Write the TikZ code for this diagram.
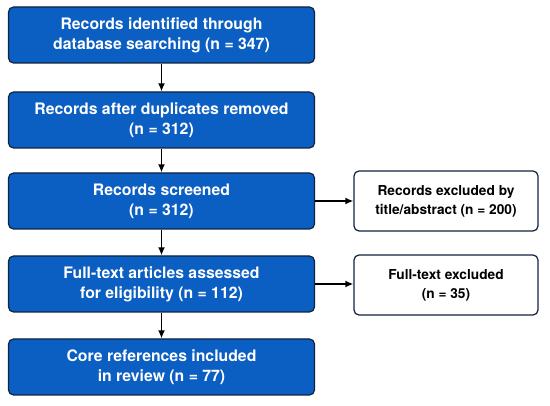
\documentclass[tikz,border=0pt]{standalone}
\usepackage{fontspec}
\setmainfont{TeX Gyre Heros}
\usepackage{xcolor}
\usetikzlibrary{arrows.meta,positioning}
\definecolor{flowblue}{HTML}{0B5EC2}
\definecolor{edgedark}{HTML}{10233F}

\begin{document}
\begin{tikzpicture}[
  x=1pt,y=-1pt,
  wire/.style={-{Latex[length=8pt,width=7pt]},line width=1.6pt},
  mainbox/.style={draw=edgedark,line width=1.2pt,rounded corners=5pt,
                  fill=flowblue,text=white,minimum width=306pt,
                  minimum height=56pt,align=center,
                  font=\fontsize{15.8}{20}\selectfont\bfseries},
  sidebox/.style={draw=edgedark,line width=1.2pt,rounded corners=5pt,
                  fill=white,text=black,minimum width=184pt,
                  minimum height=60pt,align=center,
                  font=\fontsize{13.7}{19}\selectfont\bfseries}
]
\useasboundingbox (0,0) rectangle (550,406);

% Main column
\node[mainbox] (ident) at (161.5,35) {Records identified through\\database searching (n = 347)};
\node[mainbox] (dedup) at (161.5,120) {Records after duplicates removed\\(n = 312)};
\node[mainbox] (screen) at (161.5,201) {Records screened\\(n = 312)};
\node[mainbox] (full) at (161.5,284) {Full-text articles assessed\\for eligibility (n = 112)};
\node[mainbox] (core) at (161.5,367) {Core references included\\in review (n = 77)};

% Exclusions
\node[sidebox] (exabs) at (446,201) {Records excluded by\\title/abstract (n = 200)};
\node[sidebox] (exfull) at (446,285) {Full-text excluded\\(n = 35)};

\draw[wire] (ident) -- (dedup);
\draw[wire] (dedup) -- (screen);
\draw[wire] (screen) -- (full);
\draw[wire] (full) -- (core);
\draw[wire] (screen.east) -- (exabs.west);
\draw[wire] (full.east) -- (full.east -| exfull.west);
\end{tikzpicture}
\end{document}
